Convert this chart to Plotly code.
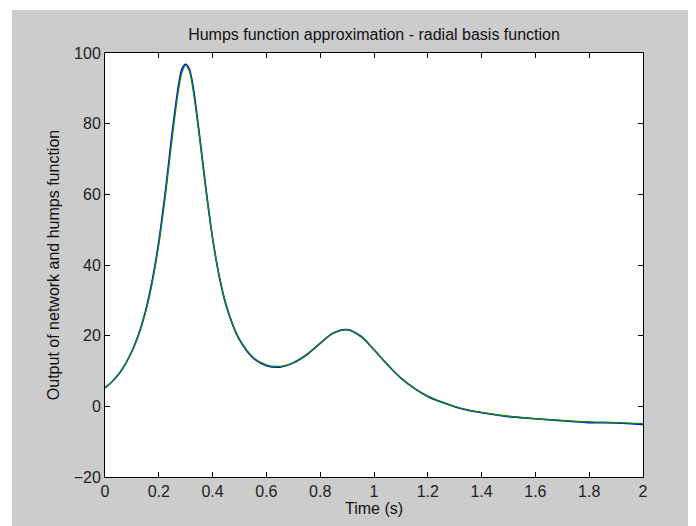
import plotly.graph_objects as go

# Points
time_s = [0.0, 0.025, 0.05, 0.075, 0.1, 0.125, 0.15, 0.175, 0.2, 0.225, 0.25, 0.275,
          0.2875, 0.3, 0.3125, 0.325, 0.35, 0.375, 0.4, 0.425, 0.45, 0.475, 0.5, 0.55,
          0.6, 0.65, 0.7, 0.75, 0.8, 0.85, 0.9, 0.95, 1.0, 1.05, 1.1, 1.15, 1.2, 1.25,
          1.3, 1.35, 1.4, 1.45, 1.5, 1.6, 1.7, 1.8, 1.9, 2.0]

humps_values = [5.2, 6.9, 9.1, 11.9, 15.5, 20.2, 26.4, 34.8, 45.9, 60.0, 76.2, 90.4,
                94.9, 96.5, 95.1, 90.8, 76.9, 61.2, 47.5, 36.8, 28.9, 23.2, 19.0, 13.9,
                11.7, 11.3, 12.4, 14.7, 17.9, 20.7, 21.7, 19.8, 16.0, 11.8, 8.0, 5.1, 2.9, 1.3,
                0.0, -1.0, -1.7, -2.3, -2.8, -3.5, -4.0, -4.4, -4.6, -4.9]

network_values = [5.3, 6.9, 9.0, 11.9, 15.6, 20.4, 26.8, 35.4, 46.7, 61.2, 77.6, 91.6,
                  95.7, 96.8, 95.6, 91.6, 77.6, 61.8, 47.6, 36.6, 28.6, 23.0, 18.8, 13.7,
                  11.5, 11.1, 12.3, 14.6, 17.8, 20.8, 21.7, 19.9, 16.0, 11.8, 8.0, 5.1, 2.8, 1.2,
                  -0.1, -1.1, -1.8, -2.4, -2.9, -3.5, -4.1, -4.6, -4.7, -5.1]

x_ticks = [0, 0.2, 0.4, 0.6, 0.8, 1, 1.2, 1.4, 1.6, 1.8, 2]
x_tick_text = ["0", "0.2", "0.4", "0.6", "0.8", "1", "1.2", "1.4", "1.6", "1.8", "2"]
y_ticks = [-20, 0, 20, 40, 60, 80, 100]

FONT = "Liberation Sans, Arial, sans-serif"
GREY = "#cccccc"

fig = go.Figure()
fig.add_trace(go.Scatter(x=time_s, y=network_values, mode="lines", name="network",
                         line={"color": "#0000ff", "width": 1.6, "shape": "spline", "smoothing": 1.0}))
fig.add_trace(go.Scatter(x=time_s, y=humps_values, mode="lines", name="humps",
                         line={"color": "#118811", "width": 1.4, "shape": "spline", "smoothing": 1.0}))

# thin white strips at the top and left edge of the window
fig.add_shape(type="rect", xref="paper", yref="paper", x0=-0.3, x1=-0.1729, y0=-0.3, y1=1.3,
              fillcolor="white", line={"width": 0}, layer="below")
fig.add_shape(type="rect", xref="paper", yref="paper", x0=-0.3, x1=1.3, y0=1.1014, y1=1.3,
              fillcolor="white", line={"width": 0}, layer="below")

axis_common = dict(
    showgrid=False, zeroline=False, showline=True, linecolor="black", linewidth=1,
    mirror="ticks", ticks="inside", ticklen=5, tickcolor="black", tickwidth=1,
    tickfont={"family": FONT, "size": 16, "color": "#222222"},
)

fig.update_xaxes(range=[0, 2], tickvals=x_ticks, ticktext=x_tick_text,
                 title={"text": "Time (s)", "font": {"family": FONT, "size": 16, "color": "#111111"}, "standoff": 0},
                 **axis_common)
fig.update_yaxes(range=[-20, 100], tickvals=y_ticks,
                 title={"text": "Output of network and humps function",
                        "font": {"family": FONT, "size": 16, "color": "#111111"}, "standoff": 10},
                 **axis_common)

fig.update_layout(
    width=696, height=526,
    paper_bgcolor=GREY, plot_bgcolor="white",
    showlegend=False,
    margin={"l": 97, "r": 61, "t": 45, "b": 57},
    title={"text": "Humps function approximation - radial basis function",
           "font": {"family": FONT, "size": 16, "color": "#111111"},
           "x": 0.5, "xref": "paper", "y": 1 - 26 / 526, "yanchor": "middle"},
)

fig.write_html("out.html")
